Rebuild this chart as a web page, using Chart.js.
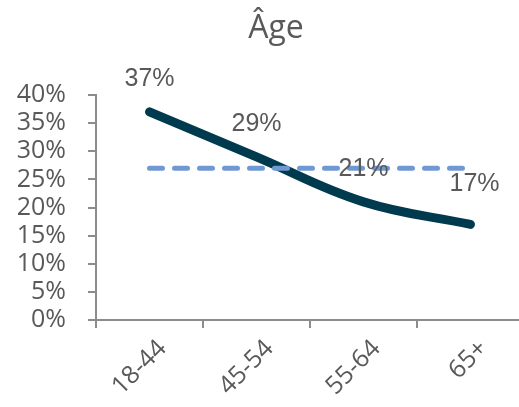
<!DOCTYPE html>
<html>
<head>
<meta charset="utf-8">
<script src="https://cdn.jsdelivr.net/npm/chart.js@4"></script>
<style>
  html, body { margin: 0; padding: 0; background: #fff; overflow: hidden; }
  #wrap { width: 519px; height: 407px; overflow: hidden; }
</style>
</head>
<body>
<div id="wrap"><canvas id="myChart" width="524" height="407"></canvas></div>
<script>
// chart data
const chartTitle = 'Âge';
const categories = ['18-44', '45-54', '55-64', '65+'];
const shareValues = [37, 29, 21, 17];
const averageValues = [27, 27, 27, 27];
const yTicks = [0, 5, 10, 15, 20, 25, 30, 35, 40];

const grey = '#595959';
const axisGrey = '#8c8c8c';

// title drawn by hand so it can sit a bit right of the canvas centre, like the original
const titleText = {
    id: 'titleText',
    afterDraw(chart) {
        const ctx = chart.ctx;
        ctx.save();
        ctx.font = '32px "Open Sans", sans-serif';
        ctx.fillStyle = grey;
        ctx.textAlign = 'center';
        ctx.textBaseline = 'middle';
        ctx.fillText(chartTitle, 276, 29);
        ctx.restore();
    }
};

// % labels above the solid line points
const pointLabels = {
    id: 'pointLabels',
    afterDatasetsDraw(chart) {
        const ctx = chart.ctx;
        const meta = chart.getDatasetMeta(0);
        ctx.save();
        ctx.font = '25px "Liberation Sans", Arial, sans-serif';
        ctx.fillStyle = grey;
        ctx.textAlign = 'center';
        ctx.textBaseline = 'middle';
        meta.data.forEach((pt, i) => {
            const last = i === shareValues.length - 1;
            ctx.fillText(shareValues[i] + '%', pt.x + (last ? 4 : 0), pt.y - (last ? 40 : 33));
        });
        ctx.restore();
    }
};

new Chart(document.getElementById('myChart').getContext('2d'), {
    type: 'line',
    data: {
        labels: categories,
        datasets: [{
            label: chartTitle,
            data: shareValues,
            borderColor: '#003a4f',
            borderWidth: 9,
            borderCapStyle: 'round',
            borderJoinStyle: 'round',
            tension: 0.4,
            pointRadius: 0,
            fill: false,
            order: 2
        }, {
            label: 'Moyenne',
            data: averageValues,
            borderColor: '#7099d4',
            borderWidth: 5,
            borderDash: [13, 12],
            borderCapStyle: 'round',
            pointRadius: 0,
            fill: false,
            order: 1
        }]
    },
    options: {
        responsive: false,
        animation: false,
        layout: { padding: { top: 95, right: 0, bottom: 0, left: 0 } },
        plugins: {
            legend: { display: false },
            tooltip: { enabled: false },
            title: { display: false }
        },
        scales: {
            x: {
                offset: true,
                grid: { offset: true, drawOnChartArea: false, drawTicks: true, tickLength: 8, color: axisGrey, lineWidth: 2 },
                border: { color: axisGrey, width: 2 },
                ticks: {
                    color: grey,
                    font: { family: '"Open Sans", sans-serif', size: 25 },
                    minRotation: 45,
                    maxRotation: 45,
                    labelOffset: 13,
                    padding: 6
                },
                afterFit(scale) { scale.height = 87; }
            },
            y: {
                min: 0,
                max: 40,
                afterBuildTicks(scale) { scale.ticks = yTicks.map(v => ({ value: v })); },
                grid: { drawOnChartArea: false, drawTicks: true, tickLength: 8, color: axisGrey, lineWidth: 2 },
                border: { color: axisGrey, width: 2 },
                ticks: {
                    color: grey,
                    autoSkip: false,
                    font: { family: '"Open Sans", sans-serif', size: 25, lineHeight: 1 },
                    padding: 22,
                    callback: v => v + '%'
                },
                afterFit(scale) { scale.width = 96; }
            }
        }
    },
    plugins: [pointLabels, titleText]
});
</script>
</body>
</html>
